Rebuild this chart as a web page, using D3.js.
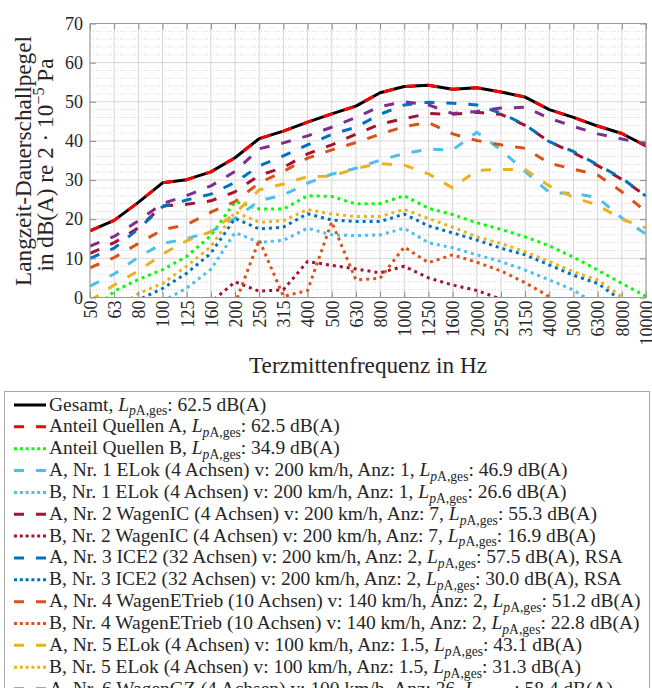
<!DOCTYPE html>
<html><head><meta charset="utf-8">
<script src="https://cdn.jsdelivr.net/npm/d3@7"></script>
<style>
body{margin:0;background:#fff}
svg{display:block}
</style>
</head><body>
<svg id="c" width="652" height="688" font-family="Liberation Serif"></svg>
<script>
// ---------- data ----------
const freqs = ["50","63","80","100","125","160","200","250","315","400","500","630","800","1000","1250","1600","2000","2500","3150","4000","5000","6300","8000","10000"];
const yTicks = [0,10,20,30,40,50,60,70];

const gesamt       = [17.0,19.7,24.3,29.3,30.1,32.1,35.7,40.6,42.5,44.8,46.9,48.9,52.3,53.9,54.2,53.2,53.6,52.5,51.2,48.0,46.0,43.8,41.9,38.7];
const anteilA      = [17.0,19.7,24.3,29.3,30.1,32.1,35.7,40.6,42.5,44.8,46.9,48.9,52.3,53.9,54.2,53.2,53.6,52.5,51.2,48.0,46.0,43.8,41.9,38.7];
const anteilB      = [-4.0,1.6,4.6,7.1,10.5,15.8,24.5,22.6,22.6,26.0,25.8,23.9,24.0,26.0,22.8,21.2,19.1,17.4,15.5,13.2,10.3,7.0,3.6,0.3];
const a1ELok       = [2.9,6.0,10.3,13.8,15.0,16.8,20.2,24.7,26.2,29.2,31.5,33.0,35.1,36.8,37.9,37.7,42.2,37.7,32.2,26.8,26.6,25.5,20.3,16.2];
const b1ELok       = [-15,-10,-6,-1.0,2.4,7.2,16.6,14.1,14.6,17.7,16.0,15.8,16.0,17.7,14.0,12.7,10.9,9.2,7.0,4.5,1.9,-2,-6,-10];
const a2WagenIC    = [11.3,14.0,17.8,23.4,23.8,24.7,27.0,31.2,33.2,36.7,39.0,41.7,44.3,45.7,47.0,46.8,47.3,46.8,44.0,39.8,37.0,33.7,30.2,26.0];
const b2WagenIC    = [-20,-15,-10,-7,-4,-1.2,4.0,1.6,2.0,9.2,8.2,7.3,6.3,8.0,5.0,3.2,1.8,-0.4,-3,-6,-9,-12,-15,-18];
const a3ICE2       = [10.0,12.6,17.5,23.2,24.9,26.4,29.4,33.6,36.2,39.0,41.7,43.5,46.8,49.2,49.9,49.6,49.2,47.1,44.1,39.8,37.3,33.9,30.5,25.9];
const b3ICE2       = [-12,-6,-0.6,2.3,6.2,11.3,20.2,17.5,18.0,21.4,19.8,19.4,19.4,21.3,18.3,16.5,14.7,12.6,10.9,8.3,5.7,3.6,-0.8,-4];
const a4WagenETrieb= [7.6,10.2,13.8,17.3,18.6,21.8,24.5,29.3,32.2,35.6,37.7,39.6,41.7,43.7,44.7,41.8,40.1,39.0,38.1,34.3,32.8,31.3,27.0,21.9];
const b4WagenETrieb= [-30,-25,-20,-15,-10,-6,-1.6,14.7,0.3,1.8,19.3,4.5,4.9,12.9,8.9,10.9,9.0,6.8,3.8,0.2,-3,-6,-9,-12];
const a5ELok       = [-0.8,3.2,6.8,11.1,14.5,16.8,21.5,27.5,29.0,30.9,31.0,33.0,34.2,33.8,31.6,28.0,32.5,32.7,32.7,28.5,25.6,23.6,20.0,17.8];
const b5ELok       = [-10,-3,1.0,3.6,8.0,13.0,21.9,19.2,19.6,22.5,21.3,20.7,20.7,22.5,20.2,18.0,15.5,13.8,11.7,9.2,6.6,4.5,0.2,-3];
const a6WagenGZ    = [13.1,15.6,19.6,24.0,26.0,28.5,32.2,38.0,39.5,41.3,43.5,46.0,48.8,50.0,49.2,47.0,47.5,48.4,48.6,45.8,43.7,41.8,40.5,39.2];

const legendPrefix = [
  "Gesamt, ",
  "Anteil Quellen A, ",
  "Anteil Quellen B, ",
  "A, Nr. 1 ELok (4 Achsen) v: 200 km/h, Anz: 1, ",
  "B, Nr. 1 ELok (4 Achsen) v: 200 km/h, Anz: 1, ",
  "A, Nr. 2 WagenIC (4 Achsen) v: 200 km/h, Anz: 7, ",
  "B, Nr. 2 WagenIC (4 Achsen) v: 200 km/h, Anz: 7, ",
  "A, Nr. 3 ICE2 (32 Achsen) v: 200 km/h, Anz: 2, ",
  "B, Nr. 3 ICE2 (32 Achsen) v: 200 km/h, Anz: 2, ",
  "A, Nr. 4 WagenETrieb (10 Achsen) v: 140 km/h, Anz: 2, ",
  "B, Nr. 4 WagenETrieb (10 Achsen) v: 140 km/h, Anz: 2, ",
  "A, Nr. 5 ELok (4 Achsen) v: 100 km/h, Anz: 1.5, ",
  "B, Nr. 5 ELok (4 Achsen) v: 100 km/h, Anz: 1.5, ",
  "A, Nr. 6 WagenGZ (4 Achsen) v: 100 km/h, Anz: 36, "
];
const legendLevel = ["62.5","62.5","34.9","46.9","26.6","55.3","16.9","57.5","30.0","51.2","22.8","43.1","31.3","58.4"];
const legendSuffix = [" dB(A)"," dB(A)"," dB(A)"," dB(A)"," dB(A)"," dB(A)"," dB(A)"," dB(A), RSA"," dB(A), RSA"," dB(A)"," dB(A)"," dB(A)"," dB(A)"," dB(A)"];

// ---------- styles table ----------
const FONT = "'Liberation Serif', 'Times New Roman', serif";
const C = {blk:"#000000",red:"#FF0000",grn:"#00FF00",lb:"#4DBEEE",dr:"#A2142F",bl:"#0072BD",or:"#D95319",ye:"#EDB120",pu:"#7E2F8E"};
const seriesValues = [gesamt,anteilA,anteilB,a1ELok,b1ELok,a2WagenIC,b2WagenIC,a3ICE2,b3ICE2,a4WagenETrieb,b4WagenETrieb,a5ELok,b5ELok,a6WagenGZ];
const seriesColor  = [C.blk,C.red,C.grn,C.lb,C.lb,C.dr,C.dr,C.bl,C.bl,C.or,C.or,C.ye,C.ye,C.pu];
const seriesStyle  = ["solid","dash","dot","dash","dot","dash","dot","dash","dot","dash","dot","dash","dot","dash"];
const dashOf = s => s==="dash" ? "10,12" : s==="dot" ? "3,4" : null;

// ---------- layout ----------
const svg = d3.select("#c");
const P = {l:90, r:646, t:23.5, b:297.5};
const x = d3.scalePoint().domain(freqs).range([P.l, P.r]);
const y = d3.scaleLinear().domain([0,70]).range([P.b, P.t]);
const txt = (sel) => sel.style("font-family",FONT).attr("fill","#262626");

// grid
const g = svg.append("g");
const minor = d3.range(0,71,2).filter(v => v%10!==0);
g.selectAll(".mn").data(minor).join("line")
  .attr("x1",P.l).attr("x2",P.r).attr("y1",d=>y(d)).attr("y2",d=>y(d))
  .attr("stroke","#c4c4c4").attr("stroke-width",0.8).attr("stroke-dasharray","1,2");
g.selectAll(".mj").data(yTicks).join("line")
  .attr("x1",P.l).attr("x2",P.r).attr("y1",d=>y(d)).attr("y2",d=>y(d))
  .attr("stroke","#d6d6d6").attr("stroke-width",1);
g.selectAll(".vx").data(freqs).join("line")
  .attr("x1",d=>x(d)).attr("x2",d=>x(d)).attr("y1",P.t).attr("y2",P.b)
  .attr("stroke","#d6d6d6").attr("stroke-width",1);

// clip
svg.append("clipPath").attr("id","clip").append("rect")
  .attr("x",P.l).attr("y",P.t).attr("width",P.r-P.l).attr("height",P.b-P.t);

// lines
const line = d3.line().x((d,i)=>x(freqs[i])).y(d=>y(d));
const lg = svg.append("g").attr("clip-path","url(#clip)");
seriesValues.forEach((vals,k)=>{
  lg.append("path").attr("d",line(vals)).attr("fill","none")
    .attr("stroke",seriesColor[k]).attr("stroke-width",3)
    .attr("stroke-linejoin","round")
    .attr("stroke-dasharray",dashOf(seriesStyle[k]));
});

// axes
const axStyle = sel => { sel.attr("font-family",null); sel.select(".domain").remove(); sel.selectAll(".tick line").attr("stroke","#8a8a8a"); };
const yAx = svg.append("g").attr("transform",`translate(${P.l},0)`)
  .call(d3.axisLeft(y).tickValues(yTicks).tickSizeInner(-6).tickSizeOuter(0).tickPadding(7));
axStyle(yAx);
txt(yAx.selectAll("text")).attr("font-size",18);
const yAxR = svg.append("g").attr("transform",`translate(${P.r},0)`)
  .call(d3.axisRight(y).tickValues(yTicks).tickSizeInner(-6).tickSizeOuter(0).tickFormat(""));
axStyle(yAxR);
const xAx = svg.append("g").attr("transform",`translate(0,${P.b})`)
  .call(d3.axisBottom(x).tickSizeInner(-6).tickSizeOuter(0));
axStyle(xAx);
txt(xAx.selectAll("text")).attr("font-size",18)
  .attr("transform","rotate(-90)").attr("x",-3).attr("y",0).attr("dy","0.35em").style("text-anchor","end");
const xAxT = svg.append("g").attr("transform",`translate(0,${P.t})`)
  .call(d3.axisTop(x).tickSizeInner(-6).tickSizeOuter(0).tickFormat(""));
axStyle(xAxT);
svg.append("rect").attr("x",P.l).attr("y",P.t).attr("width",P.r-P.l).attr("height",P.b-P.t)
  .attr("fill","none").attr("stroke","#9a9a9a").attr("stroke-width",1);

// axis titles
const xt = txt(svg.append("text")).attr("x",(P.l+P.r)/2).attr("y",373).attr("text-anchor","middle")
  .attr("font-size",20).text("Terzmittenfrequenz in Hz");
const xw = xt.node().getComputedTextLength();
const labFs = 20*238/xw;
xt.attr("font-size",labFs);

const yl1 = txt(svg.append("text")).attr("transform","translate(31,161) rotate(-90)")
  .attr("text-anchor","middle").attr("font-size",labFs).text("Langzeit-Dauerschallpegel");
const yl2 = txt(svg.append("text")).attr("transform","translate(53,165) rotate(-90)")
  .attr("text-anchor","middle").attr("font-size",labFs);
yl2.append("tspan").text("in dB(A) re 2 · 10");
yl2.append("tspan").attr("font-size",labFs*0.7).attr("dy",-labFs*0.38).text("−5");
yl2.append("tspan").attr("dy",labFs*0.38).text(" Pa");

// legend
const L = {x:4.5, y:391.5, w:645, row:21.85, y0:405, sx1:14, sx2:46, tx:49};
svg.append("rect").attr("x",L.x).attr("y",L.y).attr("width",L.w).attr("height",400)
  .attr("fill","#fff").attr("stroke","#a8a8a8").attr("stroke-width",1);
const legTexts = [];
function buildText(t,k,fs){
  t.selectAll("*").remove();
  t.attr("font-size",fs);
  t.append("tspan").text(legendPrefix[k]);
  t.append("tspan").attr("font-style","italic").text("L");
  t.append("tspan").attr("font-style","italic").attr("font-size",fs*0.7).attr("dy",fs*0.25).text("p");
  t.append("tspan").attr("font-size",fs*0.7).text("A,ges");
  t.append("tspan").attr("dy",-fs*0.25).text(":");
  t.append("tspan").text(" "+legendLevel[k]+legendSuffix[k]);
}
legendPrefix.forEach((p,k)=>{
  const yy = L.y0 + k*L.row;
  svg.append("line").attr("x1",L.sx1).attr("x2",L.sx2).attr("y1",yy).attr("y2",yy)
    .attr("stroke",seriesColor[k]).attr("stroke-width",3)
    .attr("stroke-dasharray",seriesStyle[k]==="dash"?"10,12":seriesStyle[k]==="dot"?"3,2.8":null);
  const t = txt(svg.append("text")).attr("x",L.tx).attr("y",yy+5.5);
  buildText(t,k,16);
  legTexts.push(t);
});
const wLong = legTexts[9].node().getComputedTextLength();
const legFs = 16*592/wLong;
legTexts.forEach((t,k)=>buildText(t,k,legFs));
</script>
</body></html>
